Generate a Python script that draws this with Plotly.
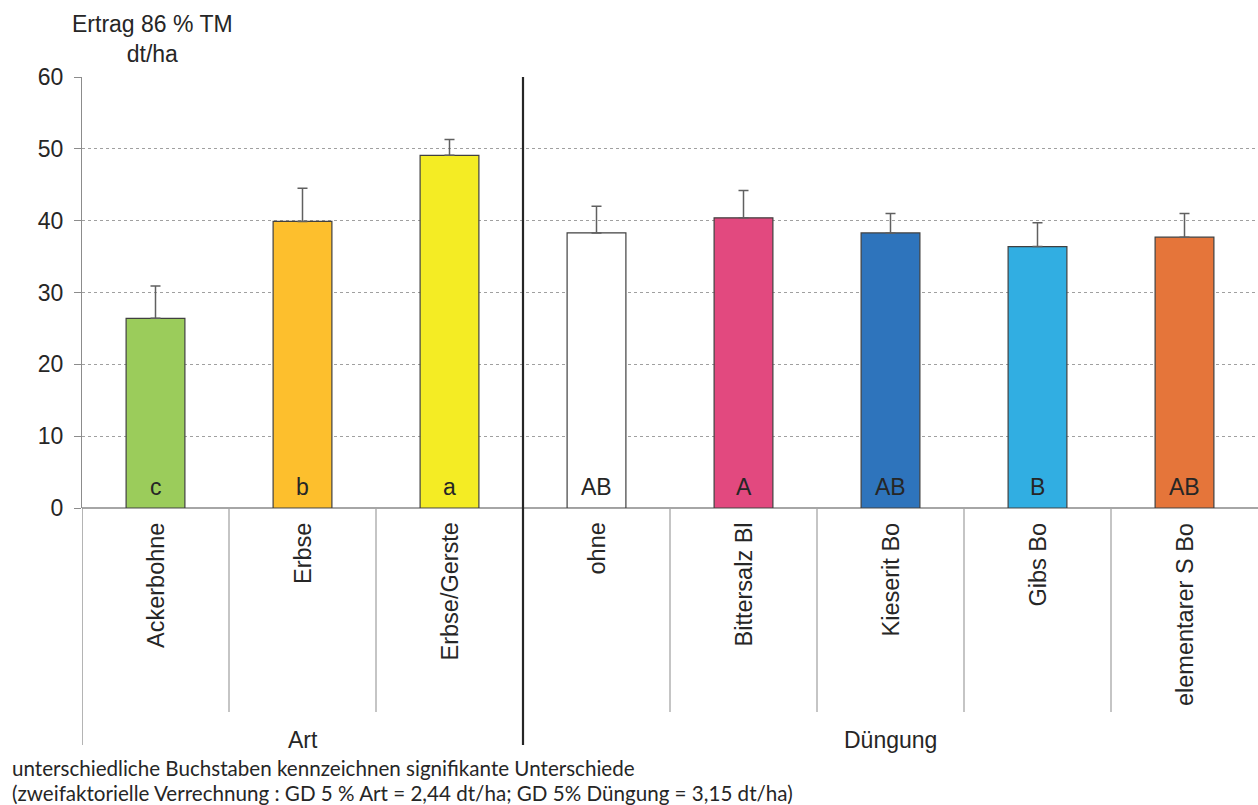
import plotly.graph_objects as go

categories = ["Ackerbohne", "Erbse", "Erbse/Gerste", "ohne", "Bittersalz Bl",
              "Kieserit Bo", "Gibs Bo", "elementarer S Bo"]
values = [26.4, 39.9, 49.1, 38.3, 40.4, 38.3, 36.4, 37.7]
errors = [4.5, 4.6, 2.2, 3.7, 3.8, 2.7, 3.3, 3.3]
letters = ["c", "b", "a", "AB", "A", "AB", "B", "AB"]
colors = ["#9BCC5B", "#FDBF2D", "#F4EC24", "#FFFFFF", "#E2497F",
          "#2E74BC", "#31AEE2", "#E5753A"]
groups = ["Art", "Düngung"]
group_sizes = [3, 5]
y_ticks = [0, 10, 20, 30, 40, 50, 60]
title_text = "Ertrag 86 % TM<br>dt/ha"
footnote = ["unterschiedliche Buchstaben kennzeichnen signifikante Unterschiede",
            "(zweifaktorielle Verrechnung : GD 5 % Art = 2,44 dt/ha; GD 5% Düngung = 3,15 dt/ha)"]

FONT = "Liberation Sans, Arial, sans-serif"
TXT = "#262626"
xs = list(range(len(categories)))

fig = go.Figure()
fig.add_trace(go.Bar(
    x=xs, y=values, width=0.4,
    marker=dict(color=colors, line=dict(color="#404040", width=1.2)),
    error_y=dict(type="data", array=errors, arrayminus=[0] * len(errors),
                 symmetric=False, color="#606060", thickness=1.5, width=5),
    hoverinfo="skip",
))

annotations = []
# letters inside bars
for x, l in zip(xs, letters):
    annotations.append(dict(x=x, y=0, xref="x", yref="y", text=l, showarrow=False,
                            yanchor="bottom", yshift=6,
                            font=dict(family=FONT, size=23, color=TXT)))
# category labels rotated
for x, c in zip(xs, categories):
    annotations.append(dict(x=x, y=0, xref="x", yref="paper", text=c, showarrow=False,
                            textangle=-90, xanchor="center", yanchor="top", yshift=-13,
                            font=dict(family=FONT, size=23.5, color=TXT)))
# group labels
start = 0
for g, n in zip(groups, group_sizes):
    mid = start - 0.5 + n / 2
    annotations.append(dict(x=mid, y=0, xref="x", yref="paper", text=g, showarrow=False,
                            xanchor="center", yanchor="middle", yshift=-232,
                            font=dict(family=FONT, size=23, color=TXT)))
    start += n
# title
annotations.append(dict(x=(152 - 82) / 1176, y=1 + (77 - 9) / 431,
                        xref="paper", yref="paper", text=title_text,
                        showarrow=False, xanchor="center", yanchor="top", align="center",
                        font=dict(family=FONT, size=23, color=TXT)))
# footnotes
for i, t in enumerate(footnote):
    annotations.append(dict(x=(10 - 82) / 1176, y=-(768 + 25 * i - 508) / 431,
                            xref="paper", yref="paper", text=t, showarrow=False,
                            xanchor="left", yanchor="middle",
                            font=dict(family="Lato, sans-serif", size=20.6, color=TXT)))

shapes = []
bottom_sep = -(712 - 508) / 431
bottom_full = -(745 - 508) / 431
for i in range(len(categories) - 1):
    pos = i + 0.5
    if i + 1 == group_sizes[0]:
        continue
    shapes.append(dict(type="line", xref="x", yref="paper", x0=pos, x1=pos,
                       y0=0, y1=bottom_sep, line=dict(color="#A6A6A6", width=1.3)))
shapes.append(dict(type="line", xref="x", yref="paper", x0=-0.5, x1=-0.5,
                   y0=0, y1=bottom_full, line=dict(color="#8C8C8C", width=1.3)))
gpos = group_sizes[0] - 0.5
shapes.append(dict(type="line", xref="x", yref="paper", x0=gpos, x1=gpos,
                   y0=1, y1=bottom_full, line=dict(color="#262626", width=2.2)))

fig.update_layout(
    width=1258, height=805,
    margin=dict(l=82, r=0, t=77, b=297),
    paper_bgcolor="white", plot_bgcolor="white",
    showlegend=False,
    annotations=annotations, shapes=shapes,
    xaxis=dict(range=[-0.5, len(categories) - 0.5], showticklabels=False,
               showgrid=False, zeroline=False, showline=False, ticks=""),
    yaxis=dict(range=[0, 60], tickvals=y_ticks, showgrid=True, gridcolor="#A0A0A0",
               griddash="dot", gridwidth=1, zeroline=True, zerolinecolor="#A6A6A6",
               zerolinewidth=1.5, showline=True, linecolor="#8C8C8C", linewidth=1.3,
               ticks="outside", ticklen=7, tickcolor="#8C8C8C", ticklabelstandoff=6,
               tickfont=dict(family=FONT, size=23, color=TXT)),
)
fig.write_html("out.html")
